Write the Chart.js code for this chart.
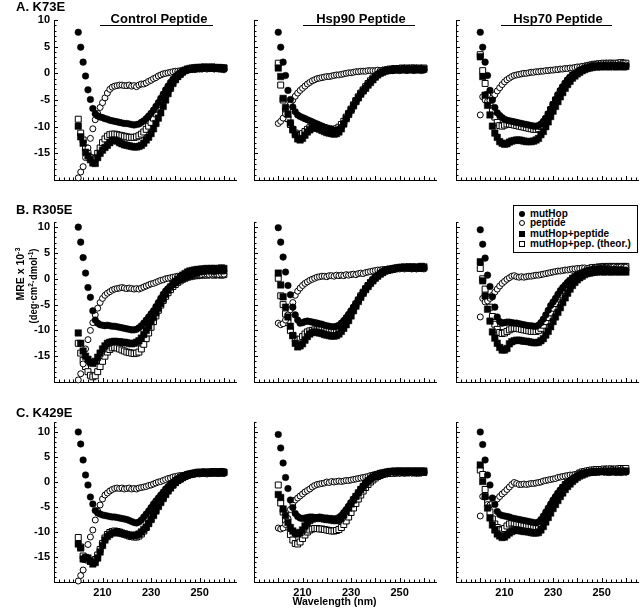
<!DOCTYPE html>
<html><head><meta charset="utf-8">
<script src="https://cdn.jsdelivr.net/npm/chart.js@4.4.1/dist/chart.umd.min.js"></script>
<style>
html,body{margin:0;padding:0;background:#fff;}
body{width:640px;height:615px;position:relative;overflow:hidden;font-family:"Liberation Sans",Arial,Helvetica,sans-serif;font-weight:bold;color:#000;}
canvas{position:absolute;}
.t{position:absolute;white-space:nowrap;}
.lbl{font-size:13px;line-height:13px;}
.ttl{font-size:13px;line-height:13px;transform:translateX(-50%);}
.ul{position:absolute;height:0;border-top:1px solid #000;}
.rot{position:absolute;font-size:11px;line-height:11px;white-space:nowrap;}
.rot sup{font-size:7.5px;vertical-align:4px;line-height:0;}
#xt{position:absolute;font-size:10.5px;line-height:10.5px;transform:translateX(-50%);white-space:nowrap;}
#legend{position:absolute;left:513px;top:205px;width:123px;height:46px;border:1px solid #000;background:#fff;font-size:10px;}
#legend .row{position:absolute;left:0;height:10px;line-height:10px;white-space:nowrap;}
#legend .mk{position:absolute;left:5px;top:2px;width:6px;height:6px;box-sizing:border-box;}
#legend .tx{position:absolute;left:16px;top:0;}
</style>
</head><body>
<script>
// ---- data ----
const wavelength = [200,201,202,203,204,205,206,207,208,209,210,211,212,213,214,215,216,217,218,219,220,221,222,223,224,225,226,227,228,229,230,231,232,233,234,235,236,237,238,239,240,241,242,243,244,245,246,247,248,249,250,251,252,253,254,255,256,257,258,259,260];
const xTickLabels = [210, 230, 250];
const yTickLabels = [-15, -10, -5, 0, 5, 10];
const rowTitles = ["A. K73E", "B. R305E", "C. K429E"];
const colTitles = ["Control Peptide", "Hsp90 Peptide", "Hsp70 Peptide"];
const seriesNames = ["mutHop", "peptide", "mutHop+peptide", "mutHop+pep. (theor.)"];

// Row A: K73E
const a1_mutHop = [7.7,4.9,2.1,-0.5,-3.1,-4.9,-6.6,-7.6,-8.0,-8.2,-8.3,-8.5,-8.6,-8.8,-8.9,-9.0,-9.1,-9.2,-9.3,-9.4,-9.4,-9.5,-9.6,-9.7,-9.6,-9.5,-9.2,-8.9,-8.5,-8.0,-7.5,-6.9,-6.2,-5.5,-4.7,-3.9,-3.1,-2.4,-1.7,-1.1,-0.6,-0.2,0.1,0.3,0.5,0.6,0.7,0.8,0.8,0.9,0.9,0.9,1.0,1.0,0.9,1.0,0.9,0.9,0.8,0.8,0.7];
const a1_pep = [-19.6,-18.5,-17.5,-15.8,-14.0,-12.2,-10.4,-8.7,-7.5,-6.4,-5.5,-4.6,-3.7,-3.0,-2.6,-2.4,-2.3,-2.2,-2.2,-2.3,-2.3,-2.2,-2.4,-2.3,-2.5,-2.2,-2.0,-2.0,-1.8,-1.5,-1.3,-1.0,-0.8,-0.5,-0.3,-0.1,0.0,0.1,0.2,0.3,0.4,0.4,0.5,0.5,0.6,0.6,0.7,0.7,0.7,0.8,0.8,0.8,0.9,0.8,0.9,0.9,0.8,0.9,0.9,0.8,0.9];
const a1_cplx = [-9.9,-11.9,-13.1,-14.8,-15.5,-16.2,-16.8,-16.9,-15.8,-15.0,-14.4,-13.9,-13.5,-13.0,-12.6,-12.5,-12.7,-13.0,-13.2,-13.4,-13.5,-13.6,-13.7,-13.8,-13.8,-13.7,-13.5,-13.1,-12.5,-12.0,-11.3,-10.4,-9.4,-8.4,-7.4,-6.2,-5.0,-3.8,-2.8,-1.9,-1.2,-0.6,-0.1,0.3,0.6,0.8,0.9,1.0,1.0,1.1,1.1,1.1,1.2,1.1,1.1,1.2,1.1,1.0,1.1,1.0,1.0];
const a1_theor = [-8.6,-11.2,-12.5,-14.0,-15.0,-15.8,-16.3,-16.0,-15.0,-14.0,-13.0,-12.3,-11.8,-11.5,-11.4,-11.4,-11.5,-11.6,-11.7,-11.8,-11.9,-12.0,-12.0,-12.0,-11.9,-11.7,-11.4,-11.0,-10.5,-9.9,-9.2,-8.4,-7.6,-6.7,-5.8,-4.9,-4.0,-3.2,-2.4,-1.7,-1.1,-0.6,-0.2,0.2,0.5,0.7,0.8,0.9,1.0,1.0,1.0,1.1,1.0,1.1,1.0,1.1,1.0,1.0,1.1,1.0,1.0];
const a2_mutHop = [7.7,4.9,2.1,-0.4,-3.2,-4.9,-6.3,-7.2,-7.8,-8.1,-8.3,-8.5,-8.7,-8.9,-9.1,-9.3,-9.5,-9.7,-9.9,-10.1,-10.3,-10.5,-10.6,-10.7,-10.7,-10.5,-10.1,-9.4,-8.5,-7.7,-6.9,-6.1,-5.3,-4.6,-3.9,-3.3,-2.7,-2.1,-1.6,-1.1,-0.6,-0.2,0.1,0.3,0.5,0.6,0.6,0.7,0.7,0.8,0.7,0.8,0.7,0.8,0.8,0.7,0.8,0.8,0.7,0.8,0.7];
const a2_pep = [-9.4,-9.0,-8.4,-7.6,-6.6,-5.8,-5.0,-4.3,-3.7,-3.2,-2.8,-2.4,-2.0,-1.7,-1.4,-1.2,-1.0,-0.9,-0.8,-0.7,-0.6,-0.6,-0.5,-0.4,-0.3,-0.3,-0.2,-0.1,0.0,0.1,0.1,0.2,0.3,0.3,0.4,0.4,0.4,0.5,0.5,0.5,0.5,0.6,0.5,0.6,0.5,0.6,0.6,0.5,0.6,0.6,0.5,0.6,0.6,0.5,0.6,0.6,0.5,0.6,0.6,0.5,0.6];
const a2_cplx = [1.0,-0.6,-4.7,-6.4,-7.7,-9.3,-10.6,-11.5,-12.3,-12.5,-12.2,-11.6,-11.0,-10.6,-10.3,-10.2,-10.3,-10.5,-10.7,-10.9,-11.1,-11.2,-11.3,-11.4,-11.3,-11.0,-10.4,-9.5,-8.5,-7.7,-6.9,-6.1,-5.3,-4.6,-3.9,-3.3,-2.8,-2.2,-1.7,-1.2,-0.7,-0.3,0.0,0.2,0.4,0.5,0.6,0.6,0.7,0.7,0.7,0.8,0.7,0.8,0.8,0.7,0.8,0.8,0.7,0.8,0.8];
const a2_theor = [1.9,-2.2,-5.0,-7.0,-8.5,-9.6,-10.5,-11.2,-11.6,-11.6,-11.3,-10.9,-10.5,-10.2,-10.0,-9.9,-9.9,-10.0,-10.1,-10.2,-10.3,-10.4,-10.5,-10.5,-10.4,-10.1,-9.6,-9.0,-8.2,-7.5,-6.7,-5.9,-5.1,-4.4,-3.7,-3.1,-2.5,-1.9,-1.4,-0.9,-0.5,-0.1,0.2,0.4,0.6,0.7,0.8,0.8,0.9,0.9,0.9,1.0,0.9,1.0,0.9,1.0,1.0,0.9,1.0,0.9,1.0];
const a3_mutHop = [7.7,4.9,2.1,-0.4,-3.2,-5.0,-6.4,-7.4,-7.9,-8.3,-8.6,-8.8,-8.9,-9.0,-9.1,-9.2,-9.3,-9.4,-9.5,-9.6,-9.7,-9.8,-9.9,-9.9,-9.8,-9.5,-9.0,-8.4,-7.6,-6.7,-5.8,-4.9,-4.0,-3.2,-2.5,-1.8,-1.2,-0.7,-0.3,0.0,0.3,0.6,0.8,1.0,1.1,1.2,1.3,1.3,1.4,1.4,1.4,1.5,1.4,1.4,1.5,1.4,1.4,1.5,1.4,1.4,1.3];
const a3_pep = [-7.8,-4.4,-5.0,-5.3,-5.1,-4.6,-4.0,-3.3,-2.7,-2.1,-1.6,-1.2,-0.9,-0.6,-0.4,-0.3,-0.2,-0.1,0.0,0.0,0.1,0.2,0.2,0.3,0.3,0.4,0.4,0.5,0.5,0.6,0.6,0.7,0.7,0.8,0.8,0.9,0.9,1.0,1.0,1.1,1.2,1.2,1.3,1.3,1.4,1.4,1.5,1.5,1.6,1.5,1.6,1.5,1.6,1.6,1.5,1.6,1.5,1.6,1.6,1.5,1.6];
const a3_cplx = [3.1,-0.6,-4.1,-6.0,-7.8,-9.9,-11.2,-12.0,-12.8,-13.1,-13.3,-13.2,-12.9,-12.7,-12.6,-12.5,-12.5,-12.6,-12.7,-12.8,-12.8,-12.8,-12.7,-12.5,-12.2,-11.5,-10.9,-10.0,-9.1,-8.1,-7.1,-6.2,-5.3,-4.4,-3.6,-2.8,-2.1,-1.5,-0.9,-0.5,-0.1,0.2,0.5,0.7,0.9,1.0,1.1,1.2,1.2,1.3,1.2,1.3,1.3,1.2,1.3,1.3,1.2,1.3,1.3,1.2,1.3];
const a3_theor = [3.5,0.5,-1.9,-4.0,-5.5,-7.0,-8.2,-9.2,-9.8,-9.9,-9.7,-9.5,-9.5,-9.6,-9.7,-9.8,-9.9,-10.0,-10.1,-10.2,-10.3,-10.4,-10.5,-10.5,-10.4,-10.0,-9.4,-8.6,-7.7,-6.8,-5.9,-5.0,-4.2,-3.4,-2.7,-2.0,-1.4,-0.9,-0.4,0.0,0.4,0.7,1.0,1.2,1.4,1.5,1.6,1.7,1.7,1.8,1.8,1.9,1.8,1.9,1.9,1.8,1.9,1.9,2.0,1.9,1.9];

// Row B: R305E
const b1_mutHop = [10.0,7.1,4.1,1.1,-1.7,-3.6,-6.2,-8.0,-8.6,-8.9,-9.0,-9.1,-9.0,-9.1,-9.2,-9.2,-9.3,-9.4,-9.5,-9.6,-9.7,-9.8,-9.9,-9.9,-9.8,-9.5,-9.1,-8.6,-8.0,-7.4,-6.8,-6.2,-5.4,-4.6,-3.8,-3.0,-2.4,-1.9,-1.5,-1.1,-0.8,-0.5,-0.2,0.0,0.2,0.4,0.6,0.8,1.0,1.1,1.3,1.4,1.4,1.5,1.5,1.5,1.4,1.5,1.6,1.5,1.5];
const b1_pep = [-19.6,-18.4,-16.5,-13.6,-11.8,-10.0,-8.5,-7.0,-5.7,-4.6,-3.8,-3.2,-2.8,-2.5,-2.2,-2.0,-1.9,-1.8,-1.7,-1.8,-1.9,-1.8,-1.9,-2.0,-1.9,-2.0,-1.8,-1.6,-1.4,-1.2,-1.0,-0.9,-0.7,-0.5,-0.3,-0.2,0.0,0.1,0.2,0.3,0.4,0.5,0.5,0.6,0.6,0.7,0.7,0.8,0.8,0.8,0.9,0.8,0.9,0.9,0.8,0.9,0.9,0.9,0.8,0.9,0.9];
const b1_cplx = [-10.5,-12.5,-14.0,-15.0,-15.6,-16.2,-16.4,-16.0,-15.2,-14.4,-13.6,-13.0,-12.5,-12.3,-12.2,-12.1,-12.2,-12.2,-12.3,-12.3,-12.4,-12.5,-12.6,-12.5,-12.3,-12.0,-11.5,-10.8,-10.0,-9.2,-8.3,-7.5,-6.6,-5.7,-4.8,-3.9,-3.0,-2.2,-1.6,-1.0,-0.5,-0.1,0.3,0.7,1.0,1.3,1.5,1.6,1.7,1.8,1.8,1.9,1.9,2.0,1.9,2.0,2.0,1.9,2.0,2.1,2.0];
const b1_theor = [-12.5,-14.4,-15.8,-17.0,-18.0,-18.7,-19.0,-18.8,-18.0,-17.0,-16.0,-15.0,-14.2,-13.7,-13.4,-13.3,-13.4,-13.6,-13.8,-14.0,-14.2,-14.3,-14.4,-14.5,-14.4,-14.2,-13.6,-12.7,-11.6,-10.5,-9.4,-8.3,-7.2,-6.1,-5.1,-4.2,-3.4,-2.7,-2.1,-1.5,-1.1,-0.7,-0.4,-0.1,0.1,0.3,0.4,0.5,0.6,0.6,0.7,0.7,0.8,0.7,0.8,0.8,0.7,0.8,0.8,0.7,0.8];
const b2_mutHop = [9.9,7.1,4.2,1.3,-1.3,-3.1,-5.5,-7.0,-8.0,-8.6,-8.5,-8.3,-8.2,-8.3,-8.4,-8.5,-8.6,-8.7,-8.8,-9.0,-9.1,-9.2,-9.3,-9.3,-9.2,-9.0,-8.6,-8.1,-7.5,-6.9,-6.2,-5.5,-4.8,-4.1,-3.4,-2.7,-2.0,-1.4,-0.8,-0.2,0.3,0.7,1.1,1.4,1.6,1.8,1.9,2.0,2.1,2.1,2.2,2.2,2.1,2.2,2.1,2.0,2.1,2.0,2.1,2.0,2.1];
const b2_pep = [-8.6,-8.9,-8.7,-8.0,-7.0,-6.0,-4.6,-3.2,-2.4,-1.8,-1.3,-0.9,-0.6,-0.3,-0.1,0.1,0.3,0.4,0.5,0.5,0.4,0.6,0.6,0.5,0.7,0.6,0.7,0.6,0.8,0.7,0.8,0.9,0.8,1.0,1.1,1.0,1.2,1.3,1.4,1.5,1.6,1.7,1.7,1.8,1.8,1.9,1.8,1.9,1.9,2.0,1.9,2.0,1.9,2.0,2.0,1.9,2.0,1.9,2.0,2.0,1.9];
const b2_cplx = [1.1,-1.2,-3.5,-5.5,-7.4,-9.2,-11.0,-12.5,-13.2,-13.0,-12.6,-11.9,-11.2,-10.7,-10.4,-10.3,-10.4,-10.5,-10.6,-10.8,-10.9,-11.0,-11.1,-11.1,-11.0,-10.7,-10.2,-9.6,-8.9,-8.1,-7.2,-6.2,-5.3,-4.4,-3.6,-2.8,-2.1,-1.5,-0.9,-0.4,0.1,0.5,0.9,1.2,1.5,1.7,1.8,1.9,2.0,2.1,2.2,2.2,2.3,2.2,2.3,2.3,2.2,2.3,2.2,2.4,2.3];
const b2_theor = [0.1,-3.3,-5.0,-6.8,-8.5,-10.0,-11.0,-11.7,-11.9,-11.7,-11.2,-10.7,-10.3,-10.1,-10.0,-9.9,-9.9,-9.9,-9.9,-10.0,-10.0,-10.1,-10.2,-10.2,-10.1,-9.8,-9.3,-8.7,-8.0,-7.3,-6.5,-5.7,-4.9,-4.1,-3.3,-2.6,-1.9,-1.3,-0.7,-0.2,0.3,0.7,1.0,1.3,1.5,1.6,1.7,1.8,1.9,2.0,2.0,2.1,2.0,2.1,2.0,2.1,2.1,2.0,2.1,2.0,2.1];
const b3_mutHop = [9.5,6.7,4.0,0.7,-1.5,-3.5,-5.5,-7.4,-8.3,-8.6,-8.5,-8.4,-8.4,-8.5,-8.6,-8.6,-8.7,-8.8,-8.9,-9.0,-9.1,-9.1,-9.2,-9.2,-9.0,-8.5,-7.8,-7.0,-6.1,-5.2,-4.5,-3.8,-3.0,-2.3,-1.7,-1.2,-0.7,-0.3,0.1,0.4,0.8,1.0,1.2,1.4,1.6,1.7,1.8,1.9,1.9,2.0,1.9,2.0,1.9,1.9,1.8,1.8,1.8,1.7,1.8,1.7,1.7];
const b3_pep = [-7.4,-3.8,-4.5,-4.3,-3.8,-3.2,-2.6,-2.0,-1.4,-0.9,-0.5,-0.1,0.2,0.5,0.6,0.4,0.3,0.4,0.3,0.4,0.5,0.5,0.6,0.7,0.7,0.8,0.9,1.0,1.1,1.2,1.3,1.4,1.5,1.5,1.6,1.7,1.7,1.8,1.9,1.9,2.0,2.0,2.1,2.1,2.0,2.1,2.2,2.1,2.2,2.2,2.1,2.2,2.2,2.1,2.2,2.3,2.2,2.2,2.3,2.2,2.2];
const b3_cplx = [3.3,-0.4,-3.3,-5.9,-8.2,-10.3,-11.5,-12.5,-13.3,-13.8,-13.8,-13.5,-12.6,-12.2,-12.0,-11.9,-11.9,-12.0,-12.1,-12.1,-12.2,-12.3,-12.4,-12.4,-12.3,-12.0,-11.6,-10.9,-10.2,-9.3,-8.3,-7.4,-6.5,-5.6,-4.6,-3.7,-2.8,-2.0,-1.3,-0.7,-0.2,0.2,0.5,0.8,1.0,1.1,1.2,1.3,1.3,1.4,1.4,1.3,1.4,1.4,1.3,1.4,1.4,1.3,1.4,1.4,1.3];
const b3_theor = [2.0,0.0,-2.0,-3.6,-5.5,-7.3,-8.8,-9.8,-10.4,-10.6,-10.5,-10.2,-9.9,-9.7,-9.6,-9.6,-9.7,-9.8,-9.9,-10.0,-10.1,-10.2,-10.2,-10.2,-10.0,-9.6,-9.0,-8.3,-7.5,-6.6,-5.7,-4.8,-3.9,-3.1,-2.3,-1.6,-1.0,-0.4,0.1,0.5,0.9,1.2,1.5,1.7,1.9,2.0,2.1,2.2,2.2,2.3,2.3,2.4,2.3,2.4,2.4,2.3,2.4,2.4,2.3,2.4,2.4];

// Row C: K429E
const c1_mutHop = [10.0,7.6,4.4,1.4,-0.6,-3.0,-4.4,-5.7,-6.2,-6.4,-6.6,-6.7,-6.8,-6.9,-7.0,-7.0,-7.1,-7.2,-7.3,-7.4,-7.5,-7.7,-7.9,-8.1,-8.2,-8.0,-7.6,-7.0,-6.4,-5.8,-5.1,-4.4,-3.8,-3.2,-2.6,-2.0,-1.4,-0.9,-0.4,0.0,0.4,0.7,1.0,1.2,1.4,1.6,1.7,1.8,1.9,2.0,2.0,2.0,2.0,1.9,2.0,2.0,1.9,2.0,2.0,2.1,2.0];
const c1_pep = [-19.8,-18.7,-17.6,-15.0,-12.5,-11.0,-9.6,-7.6,-5.8,-4.6,-3.4,-2.6,-2.2,-1.8,-1.5,-1.3,-1.2,-1.3,-1.2,-1.4,-1.3,-1.2,-1.4,-1.3,-1.4,-1.2,-1.1,-1.0,-0.9,-0.7,-0.6,-0.4,-0.2,0.0,0.1,0.3,0.5,0.7,0.8,1.0,1.1,1.2,1.3,1.3,1.4,1.5,1.5,1.6,1.6,1.7,1.6,1.7,1.7,1.6,1.7,1.7,1.8,1.7,1.7,1.8,1.7];
const c1_cplx = [-12.4,-13.2,-15.4,-15.1,-15.2,-15.8,-16.4,-16.1,-15.2,-14.0,-12.7,-11.6,-10.9,-10.5,-10.2,-10.1,-10.1,-10.2,-10.3,-10.4,-10.5,-10.6,-10.7,-10.7,-10.6,-10.4,-10.0,-9.5,-9.0,-8.3,-7.5,-6.7,-5.8,-4.9,-4.1,-3.3,-2.5,-1.8,-1.2,-0.6,-0.1,0.3,0.6,0.9,1.2,1.4,1.5,1.6,1.7,1.8,1.8,1.9,1.9,1.8,1.9,1.9,1.8,1.9,1.9,1.8,1.9];
const c1_theor = [-11.1,-13.0,-14.8,-15.5,-15.6,-15.9,-16.0,-15.5,-14.6,-13.5,-12.3,-11.2,-10.5,-10.1,-9.9,-9.8,-9.9,-10.0,-10.2,-10.4,-10.6,-10.8,-10.9,-11.0,-11.0,-10.8,-10.4,-9.8,-9.1,-8.3,-7.4,-6.5,-5.6,-4.7,-3.9,-3.1,-2.4,-1.7,-1.1,-0.6,-0.1,0.3,0.6,0.9,1.1,1.3,1.5,1.6,1.7,1.8,1.9,1.9,2.0,1.9,2.0,2.0,2.1,2.0,2.0,2.1,2.0];
const c2_mutHop = [9.5,6.8,3.8,0.9,-1.3,-3.6,-5.1,-6.3,-6.9,-7.2,-7.3,-7.2,-7.1,-7.0,-7.0,-7.1,-7.1,-7.0,-7.1,-7.2,-7.2,-7.3,-7.3,-7.4,-7.3,-7.1,-6.7,-6.1,-5.5,-4.8,-4.1,-3.4,-2.8,-2.1,-1.4,-0.8,-0.2,0.3,0.7,1.0,1.3,1.5,1.7,1.8,1.9,2.0,2.0,2.1,2.0,2.1,2.0,2.0,1.9,2.0,1.9,2.0,1.9,1.8,1.9,1.9,2.0];
const c2_pep = [-9.2,-9.4,-9.2,-8.5,-7.3,-5.5,-4.3,-3.6,-3.2,-2.8,-2.4,-2.0,-1.7,-1.4,-1.0,-0.7,-0.5,-0.4,-0.3,-0.2,0.0,-0.1,0.1,0.0,0.1,0.2,0.1,0.2,0.3,0.3,0.4,0.5,0.6,0.7,0.8,0.9,1.0,1.1,1.3,1.4,1.5,1.6,1.6,1.7,1.7,1.8,1.8,1.7,1.8,1.9,1.8,1.9,1.8,1.9,1.9,1.8,1.9,1.9,1.8,1.9,1.9];
const c2_cplx = [-2.5,-3.1,-5.4,-6.7,-8.1,-9.1,-9.8,-10.2,-10.4,-10.1,-9.6,-8.8,-8.2,-7.7,-7.4,-7.3,-7.2,-7.2,-7.3,-7.4,-7.5,-7.5,-7.6,-7.7,-7.7,-7.6,-7.2,-6.6,-5.9,-5.2,-4.4,-3.6,-2.9,-2.2,-1.5,-0.9,-0.3,0.2,0.6,1.0,1.3,1.5,1.7,1.8,1.9,2.0,2.1,2.1,2.2,2.1,2.2,2.2,2.1,2.2,2.2,2.1,2.2,2.2,2.1,2.2,2.2];
const c2_theor = [-0.6,-4.2,-6.0,-7.6,-9.0,-10.5,-11.6,-12.3,-12.4,-12.0,-11.3,-10.6,-10.0,-9.6,-9.4,-9.3,-9.3,-9.4,-9.4,-9.5,-9.6,-9.7,-9.8,-9.8,-9.7,-9.5,-9.1,-8.5,-7.8,-7.0,-6.1,-5.2,-4.3,-3.4,-2.6,-1.8,-1.1,-0.5,0.0,0.4,0.8,1.1,1.3,1.5,1.6,1.7,1.7,1.8,1.8,1.8,1.9,1.8,1.9,1.8,1.9,1.9,1.8,1.9,1.8,1.9,1.9];
const c3_mutHop = [10.0,7.5,4.4,1.4,-0.6,-3.2,-4.5,-5.9,-6.5,-6.7,-6.8,-6.9,-7.0,-7.2,-7.3,-7.4,-7.5,-7.6,-7.7,-7.8,-7.9,-8.0,-8.1,-8.2,-8.0,-7.5,-6.8,-6.0,-5.2,-4.4,-3.6,-2.9,-2.2,-1.6,-1.1,-0.6,-0.1,0.3,0.7,1.0,1.3,1.5,1.7,1.8,1.9,2.0,2.0,2.1,2.0,2.0,2.1,2.0,2.0,1.9,2.0,2.0,1.9,2.0,1.9,2.0,2.0];
const c3_pep = [-6.8,-2.9,-3.0,-4.5,-4.6,-4.3,-3.9,-3.4,-2.9,-2.4,-2.0,-1.5,-1.0,-0.5,-0.1,-0.3,-0.5,-0.5,-0.4,-0.5,-0.4,-0.3,-0.3,-0.2,-0.1,0.0,0.2,0.3,0.4,0.5,0.6,0.7,0.9,1.0,1.1,1.2,1.3,1.4,1.4,1.5,1.6,1.7,1.8,1.8,1.9,1.9,2.0,1.9,2.0,2.0,2.1,2.0,2.0,2.1,2.0,2.1,2.1,2.0,2.1,2.1,2.0];
const c3_cplx = [3.4,0.1,-2.9,-5.2,-7.2,-8.6,-9.6,-10.4,-10.8,-11.1,-11.0,-10.6,-10.2,-9.9,-9.7,-9.6,-9.7,-9.8,-9.9,-9.9,-10.0,-10.1,-10.2,-10.2,-10.1,-9.6,-8.9,-8.0,-7.1,-6.2,-5.3,-4.5,-3.7,-2.9,-2.2,-1.5,-0.9,-0.4,0.1,0.5,0.9,1.2,1.4,1.6,1.8,1.9,2.0,2.0,2.1,2.1,2.1,2.2,2.1,2.1,2.2,2.1,2.2,2.1,2.2,2.1,2.2];
const c3_theor = [2.4,1.5,-1.5,-3.8,-6.0,-7.4,-8.4,-9.1,-9.5,-9.6,-9.3,-8.8,-8.4,-8.2,-8.2,-8.3,-8.4,-8.5,-8.6,-8.7,-8.8,-8.9,-9.0,-9.0,-8.8,-8.3,-7.6,-6.8,-5.9,-5.0,-4.1,-3.3,-2.5,-1.8,-1.1,-0.5,0.0,0.5,0.9,1.2,1.5,1.8,2.0,2.1,2.2,2.3,2.4,2.4,2.5,2.5,2.5,2.6,2.5,2.6,2.6,2.5,2.6,2.6,2.7,2.6,2.7];

const panelSeries = [
  [[a1_mutHop,a1_pep,a1_cplx,a1_theor],[a2_mutHop,a2_pep,a2_cplx,a2_theor],[a3_mutHop,a3_pep,a3_cplx,a3_theor]],
  [[b1_mutHop,b1_pep,b1_cplx,b1_theor],[b2_mutHop,b2_pep,b2_cplx,b2_theor],[b3_mutHop,b3_pep,b3_cplx,b3_theor]],
  [[c1_mutHop,c1_pep,c1_cplx,c1_theor],[c2_mutHop,c2_pep,c2_cplx,c2_theor],[c3_mutHop,c3_pep,c3_cplx,c3_theor]]
];

// ---- layout / styles ----
const FONT = '"Liberation Sans", Arial, Helvetica, sans-serif';
Chart.defaults.font.family = FONT;
Chart.defaults.font.weight = 'bold';
Chart.defaults.color = '#000';
const X_MIN = 190, X_MAX = 265, Y_MIN = -20;
const Y_MAX_ROW = [10, 11, 12];
const COL_LEFT = [54, 254, 456], PLOT_W = 182;
const ROW_TOP = [20, 222, 422], PLOT_H = 160;
const PAD_L = 44, PAD_T = 12, PAD_R = 6, PAD_B = 28;

// order: lower = drawn on top
const styles = [
  {pointStyle:'circle', pointRadius:3.3, pointBackgroundColor:'#000', pointBorderColor:'#000', pointBorderWidth:0.5, order:1},
  {pointStyle:'circle', pointRadius:3.0, pointBackgroundColor:'#fff', pointBorderColor:'#000', pointBorderWidth:1, order:3},
  {pointStyle:'rect', pointRadius:4.6, pointBackgroundColor:'#000', pointBorderColor:'#000', pointBorderWidth:0.5, order:2},
  {pointStyle:'rect', pointRadius:4.2, pointBackgroundColor:'#fff', pointBorderColor:'#000', pointBorderWidth:1, order:4}
];

const inwardTicks = {
  id: 'inwardTicks',
  beforeDatasetsDraw(chart) {
    const ctx = chart.ctx, xs = chart.scales.x, ys = chart.scales.y;
    const ca = chart.chartArea;
    ctx.save();
    ctx.strokeStyle = '#000';
    ctx.lineWidth = 1;
    ctx.beginPath();
    for (let v = X_MIN; v <= X_MAX; v += 2) {
      const px = Math.round(xs.getPixelForValue(v)) + 0.5;
      const len = (v % 10 === 0) ? 4 : 2.5;
      ctx.moveTo(px, ca.bottom);
      ctx.lineTo(px, ca.bottom - len);
    }
    for (let v = Y_MIN; v <= ys.max; v += 1) {
      const py = Math.round(ys.getPixelForValue(v)) + 0.5;
      const len = (v % 5 === 0) ? 4 : 2.5;
      ctx.moveTo(ca.left, py);
      ctx.lineTo(ca.left + len, py);
    }
    ctx.stroke();
    ctx.restore();
  }
};

for (let r = 0; r < 3; r++) {
  for (let c = 0; c < 3; c++) {
    const cv = document.createElement('canvas');
    const W = PAD_L + PLOT_W + PAD_R, H = PAD_T + PLOT_H + PAD_B;
    cv.width = W; cv.height = H;
    cv.style.left = (COL_LEFT[c] - PAD_L) + 'px';
    cv.style.top = (ROW_TOP[r] - PAD_T) + 'px';
    cv.style.width = W + 'px'; cv.style.height = H + 'px';
    document.body.appendChild(cv);
    const datasets = panelSeries[r][c].map((vals, k) => Object.assign({
      label: seriesNames[k],
      data: wavelength.map((w, i) => ({x: w, y: vals[i]})),
      showLine: false,
      clip: false
    }, styles[k]));
    new Chart(cv, {
      type: 'scatter',
      data: {datasets},
      plugins: [inwardTicks],
      options: {
        responsive: false,
        animation: false,
        events: [],
        devicePixelRatio: 1,
        layout: {padding: {left: 0, top: PAD_T, right: PAD_R, bottom: 0}},
        plugins: {legend: {display: false}, tooltip: {enabled: false}},
        scales: {
          x: {
            type: 'linear', min: X_MIN, max: X_MAX,
            afterBuildTicks: s => { s.ticks = xTickLabels.map(v => ({value: v})); },
            afterFit: s => { s.height = PAD_B; },
            grid: {display: false, drawTicks: false},
            border: {display: true, color: '#000', width: 1},
            ticks: {display: r === 2, color: '#000', font: {size: 11, weight: 'bold', family: FONT}, padding: 4, maxRotation: 0, autoSkip: false}
          },
          y: {
            type: 'linear', min: Y_MIN, max: Y_MAX_ROW[r],
            afterBuildTicks: s => { s.ticks = yTickLabels.map(v => ({value: v})); },
            afterFit: s => { s.width = PAD_L; },
            grid: {display: false, drawTicks: false},
            border: {display: true, color: '#000', width: 1},
            ticks: {display: c === 0, color: '#000', font: {size: 11, weight: 'bold', family: FONT}, padding: 4, autoSkip: false}
          }
        }
      }
    });
  }
}

// ---- text ----
function addText(cls, html, left, top) {
  const d = document.createElement('div');
  d.className = cls; d.innerHTML = html;
  d.style.left = left + 'px'; d.style.top = top + 'px';
  document.body.appendChild(d);
  return d;
}
const rowLabelTop = [-0.5, 203, 405.7];
rowTitles.forEach((t, i) => addText('t lbl', t, 16, rowLabelTop[i]));
const titleCenter = [159, 361, 558];
const ulSpan = [[100, 213], [303, 415], [501, 612]];
colTitles.forEach((t, i) => {
  addText('t ttl', t, titleCenter[i], 11.7);
  const u = document.createElement('div');
  u.className = 'ul';
  u.style.left = ulSpan[i][0] + 'px'; u.style.top = '25px';
  u.style.width = (ulSpan[i][1] - ulSpan[i][0]) + 'px';
  document.body.appendChild(u);
});
const y1 = addText('rot', 'MRE x 10<sup>-3</sup>', 20, 274);
y1.style.transform = 'translate(-50%,-50%) rotate(-90deg) scaleX(0.95)';
const y2 = addText('rot', '(deg\u00b7cm<sup>2</sup>\u00b7dmol<sup>-1</sup>)', 33, 285.5);
y2.style.transform = 'translate(-50%,-50%) rotate(-90deg) scaleX(0.86)';
const xt = document.createElement('div');
xt.id = 'xt'; xt.textContent = 'Wavelength (nm)';
xt.style.left = '334.5px'; xt.style.top = '596.4px';
document.body.appendChild(xt);

// legend
const lg = document.createElement('div');
lg.id = 'legend';
const mkCss = [
  'background:#000;border-radius:50%;',
  'background:#fff;border:1px solid #000;border-radius:50%;',
  'background:#000;',
  'background:#fff;border:1px solid #000;'
];
const rowTopsLg = [2.5, 12.3, 22.7, 32.7];
seriesNames.forEach((n, i) => {
  const row = document.createElement('div');
  row.className = 'row';
  row.style.top = rowTopsLg[i] + 'px';
  row.innerHTML = '<span class="mk" style="' + mkCss[i] + '"></span><span class="tx">' + n + '</span>';
  lg.appendChild(row);
});
document.body.appendChild(lg);
</script>
</body></html>
